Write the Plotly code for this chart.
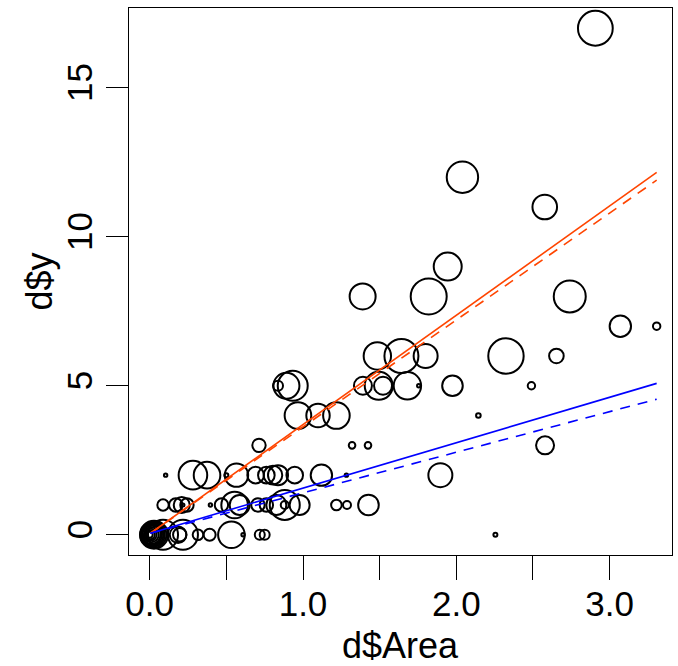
import plotly.graph_objects as go

# bubble data: area, count, circle weight (radius-ish)
area = [
	2.907, 2.040, 2.577, 1.944,
	1.389, 1.820, 2.740,
	3.070, 3.307,
	1.485, 1.642, 1.800, 2.324, 2.653,
	0.837, 0.892, 0.933, 1.391, 1.494, 1.522, 1.681, 1.755, 1.975, 2.490,
	0.967, 1.098, 1.218, 2.144,
	0.713, 1.320, 1.424, 2.579,
	0.104, 0.282, 0.374, 0.500, 0.566, 0.691, 0.761, 0.804, 0.837, 0.946, 1.120, 1.283, 1.896,
	0.087, 0.170, 0.209, 0.243, 0.217, 0.396, 0.468, 0.554, 0.587, 0.706, 0.761, 0.826, 0.881, 0.881, 0.978, 1.218, 1.287, 1.427,
	0.000, 0.004, 0.006, 0.010, 0.012, 0.015, 0.018, 0.020, 0.024, 0.028,
	0.087, 0.185, 0.196, 0.217, 0.315, 0.391, 0.533, 0.609, 0.718, 0.750, 2.255,
]
yvals = [
	17, 12, 11, 9,
	8, 8, 8,
	7, 7,
	6, 6, 6, 6, 6,
	5, 5, 5, 5, 5, 5, 5, 5, 5, 5,
	4, 4, 4, 4,
	3, 3, 3, 3,
	2, 2, 2, 2, 2, 2, 2, 2, 2, 2, 2, 2, 2,
	1, 1, 1, 1, 1, 1, 1, 1, 1, 1, 1, 1, 1, 1, 1, 1, 1, 1,
	0, 0, 0, 0, 0, 0, 0, 0, 0, 0,
	0, 0, 0, 0, 0, 0, 0, 0, 0, 0, 0,
]
w = [
	17.4, 15.7, 12.3, 14,
	13, 18, 16,
	10.7, 3.7,
	13.7, 17, 12, 17.7, 7.3,
	5, 13, 15, 9, 14, 9, 13.7, 1.7, 10.3, 3.7,
	13.3, 11.7, 13.3, 2.3,
	6.7, 3.3, 3.3, 9,
	1.7, 14.3, 13.3, 2, 11.7, 8.3, 8.3, 9.3, 10, 8.3, 10.7, 1.7, 12,
	5.7, 6.7, 8, 6.7, 1.5, 1.7, 6.7, 13.3, 10, 6.7, 6.7, 10, 15, 4, 10, 5.3, 4, 10.3,
	3, 4.5, 6, 7.5, 9, 10, 11, 12, 13, 14,
	15, 8.3, 6.7, 15, 5.3, 6, 13.3, 1.7, 5, 5, 2,
]

# fitted lines (end points)
line_x = [0.005, 3.307]
red_solid = [0.05, 12.16]
red_dash = [0.05, 11.90]
blue_solid = [0.05, 5.08]
blue_dash = [0.05, 4.55]

xtick_vals = [0, 0.5, 1, 1.5, 2, 2.5, 3]
xtick_text = ['0.0', '', '1.0', '', '2.0', '', '3.0']
ytick_vals = [0, 5, 10, 15]

FONT = 'Liberation Sans'

fig = go.Figure()

fig.add_trace(go.Scatter(x=area, y=yvals, mode='markers',
	marker=dict(symbol='circle-open', size=[2*v for v in w], color='black',
		opacity=1, line=dict(width=2, color='black'))))

for ys, col, dash in [(red_solid, '#FF4500', 'solid'), (red_dash, '#FF4500', '10px,8px'),
		(blue_solid, '#0000FF', 'solid'), (blue_dash, '#0000FF', '10px,8px')]:
	fig.add_trace(go.Scatter(x=line_x, y=ys, mode='lines',
		line=dict(color=col, width=1.6, dash=dash)))

axis_common = dict(showgrid=False, zeroline=False, showline=True, mirror=True,
	linecolor='black', linewidth=1.3, ticks='outside', tickcolor='black',
	tickwidth=1.3, automargin=False,
	tickfont=dict(family=FONT, size=35, color='black'))

fig.update_xaxes(range=[-0.135, 3.407], tickmode='array', tickvals=xtick_vals,
	ticktext=xtick_text, ticklen=24, ticklabelstandoff=-6, **axis_common)
fig.update_yaxes(range=[-0.68, 17.68], tickmode='array', tickvals=ytick_vals,
	tickangle=-90, ticklen=22, **axis_common)

fig.add_annotation(text='d$Area', xref='paper', yref='paper', x=0.5, y=0,
	yshift=-90, showarrow=False, xanchor='center', yanchor='middle',
	font=dict(family=FONT, size=36, color='black'))
fig.add_annotation(text='d$y', xref='paper', yref='paper', x=0, y=0.5,
	xshift=-90, showarrow=False, xanchor='center', yanchor='middle', textangle=-90,
	font=dict(family=FONT, size=36, color='black'))

fig.update_layout(width=678, height=666, showlegend=False,
	margin=dict(l=129, r=6, t=8, b=111, autoexpand=False),
	plot_bgcolor='white', paper_bgcolor='white')

# drop the browser's default 8px body margin so the page lines up
fig.write_html('out.html', config={'displayModeBar': False},
	post_script="document.body.style.margin='0';")
